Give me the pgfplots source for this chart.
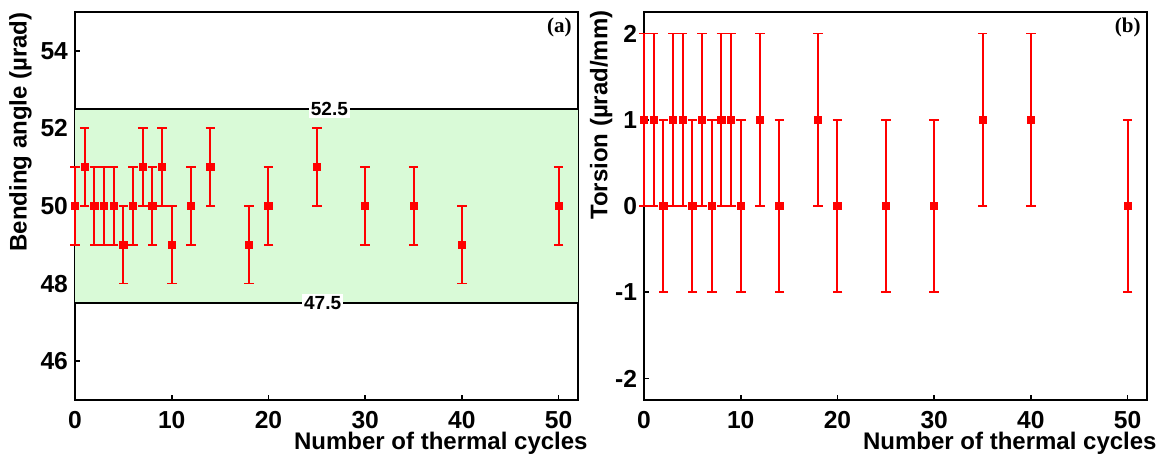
\documentclass[border=0pt]{standalone}
\usepackage{pgfplots}
\pgfplotsset{compat=1.18}
\usepackage{pgfplotstable}
\usepackage{fontspec}
\setmainfont{Liberation Sans}
\newfontfamily\serifb{Liberation Serif}
\definecolor{bandgreen}{HTML}{D9FAD7}
\definecolor{ptred}{HTML}{FF0000}

\pgfplotstableread{
x y e
0 50 1
1 51 1
2 50 1
3 50 1
4 50 1
5 49 1
6 50 1
7 51 1
8 50 1
9 51 1
10 49 1
12 50 1
14 51 1
18 49 1
20 50 1
25 51 1
30 50 1
35 50 1
40 49 1
50 50 1
}\bendtable

\pgfplotstableread{
x y e
0 1 1
1 1 1
2 0 1
3 1 1
4 1 1
5 0 1
6 1 1
7 0 1
8 1 1
9 1 1
10 0 1
12 1 1
14 0 1
18 1 1
20 0 1
25 0 1
30 0 1
35 1 1
40 1 1
50 0 1
}\torstable

\pgfplotsset{
  panel/.style={
    width=251.5pt, height=194pt, scale only axis,
    xmin=0, xmax=52,
    xtick={0,10,...,50},
    axis line style={line width=1pt},
    tick style={black, line width=0.8pt},
    tick align=inside, major tick length=2.5pt,
    xtick pos=bottom, ytick pos=left,
    ticklabel style={font=\fontsize{12.3}{14}\selectfont\bfseries},
    xticklabel style={yshift=-2pt},
    /pgf/number format/assume math mode=true,
    xlabel={Number of thermal cycles},
    xlabel style={at={(axis description cs:1,0)}, anchor=north east, inner sep=0pt, xshift=5pt, yshift=-16pt, font=\fontsize{12}{14}\selectfont\bfseries},
    ylabel style={anchor=south east, inner sep=0pt, font=\fontsize{12}{14}\selectfont\bfseries},
    clip=false,
  },
  pts/.style={only marks, mark=square*, mark size=1.8pt, color=ptred,
    error bars/.cd, y dir=both, y explicit,
    error bar style={line width=1pt, ptred},
    error mark options={rotate=90, ptred, mark size=2.4pt, line width=0.9pt}},
}

\begin{document}
\begin{tikzpicture}
\useasboundingbox (-37.5pt,-27pt) rectangle (543.5pt,200pt);
\begin{axis}[panel,
  ymin=45, ymax=55, ytick={46,48,50,52,54},
  ylabel={Bending angle (\textmu rad)},
  ylabel style={at={(axis description cs:-0.0855,1)}},
]
\addplot[draw=none, fill=bandgreen, forget plot] coordinates {(0,47.5) (52,47.5) (52,52.5) (0,52.5)} -- cycle;
\addplot[black, line width=1pt, forget plot] coordinates {(0,52.5) (52,52.5)};
\addplot[black, line width=1pt, forget plot] coordinates {(0,47.5) (52,47.5)};
\node[fill=white, inner sep=1pt, font=\fontsize{9.5}{10}\selectfont\bfseries] at (axis cs:26.3,52.5) {52.5};
\node[fill=white, inner sep=1pt, font=\fontsize{9.5}{10}\selectfont\bfseries] at (axis cs:25.6,47.5) {47.5};
\addplot[pts] table[x=x, y=y, y error=e] {\bendtable};
\node[anchor=north east, inner sep=0pt, xshift=-3pt, yshift=-3pt, font=\serifb\bfseries\fontsize{10.5}{12}\selectfont] at (rel axis cs:1,1) {(a)};
\end{axis}

\begin{axis}[panel, at={(284.5pt,0pt)},
  ymin=-2.25, ymax=2.25, ytick={-2,-1,0,1,2},
  ylabel={Torsion (\textmu rad/mm)},
  ylabel style={at={(axis description cs:-0.062,1.005)}},
]
\addplot[pts] table[x=x, y=y, y error=e] {\torstable};
\node[anchor=north east, inner sep=0pt, xshift=-3pt, yshift=-3pt, font=\serifb\bfseries\fontsize{10.5}{12}\selectfont] at (rel axis cs:1,1) {(b)};
\end{axis}
\end{tikzpicture}
\end{document}
